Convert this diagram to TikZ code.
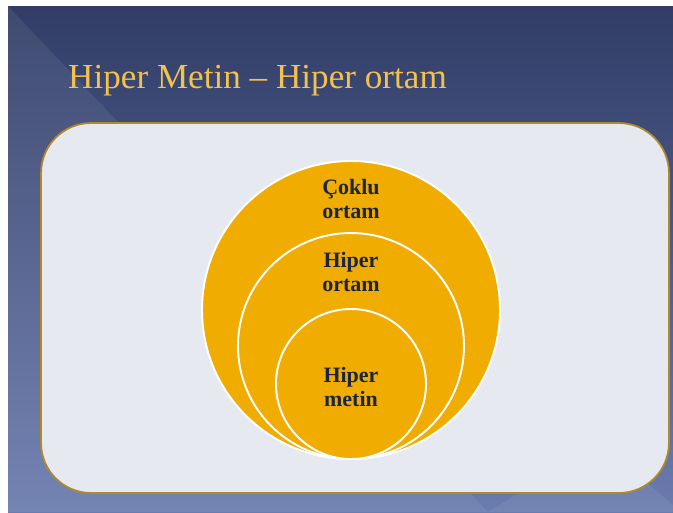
\documentclass[tikz,border=0pt]{standalone}
\usepackage{fontspec}
\setmainfont{Liberation Serif}
\usepackage{xcolor}
\definecolor{slidetop}{HTML}{313D66}
\definecolor{slidebot}{HTML}{6A7BAE}
\definecolor{panelfill}{HTML}{E7E9F1}
\definecolor{panelgold}{HTML}{B08A2A}
\definecolor{circgold}{HTML}{F0AC00}
\definecolor{textnavy}{HTML}{1B2440}
\definecolor{titlegold}{HTML}{F3C14D}
\usetikzlibrary{positioning, backgrounds}

\begin{document}
\begin{tikzpicture}[x=0.02cm, y=-0.02cm,
  ring/.style={circle, fill=circgold, draw=white, line width=1.1pt, inner sep=0pt},
  ringtext/.style={font=\fontsize{12.5}{13.6}\selectfont\bfseries, text=textnavy, align=center}]
  \useasboundingbox (0,0) rectangle (673,512);
  \fill[white] (0,0) rectangle (673,512);
  \shade[top color=slidetop, bottom color=slidebot] (8,6) rectangle (673,512);
  \fill[white, opacity=0.07] (8,6) -- (488,512) -- (8,512) -- cycle;
  \fill[white, opacity=0.07] (488,512) -- (600,443) -- (673,505) -- (673,512) -- cycle;
  \node[font=\fontsize{20}{24}\selectfont, text=titlegold, anchor=base west] (title) at (62,88) {Hiper Metin -- Hiper ortam};
  \node[draw=panelgold, line width=1pt, fill=panelfill, rounded corners=1cm, minimum width=12.56cm, minimum height=7.4cm] (panel) at (355,308) {};
  \foreach \n/\cy/\r in {coklu/310/149, hiperortam/346/113, hipermetin/384/75}
    \node[ring, minimum size=2*\r*0.02cm] (\n) at (351,\cy) {};
  \foreach \n/\ty/\txt in {coklu/199/{Çoklu\\ortam}, hiperortam/272/{Hiper\\ortam}, hipermetin/387/{Hiper\\metin}}
    \node[ringtext] (\n txt) at (351,\ty) {\txt};
\end{tikzpicture}
\end{document}
